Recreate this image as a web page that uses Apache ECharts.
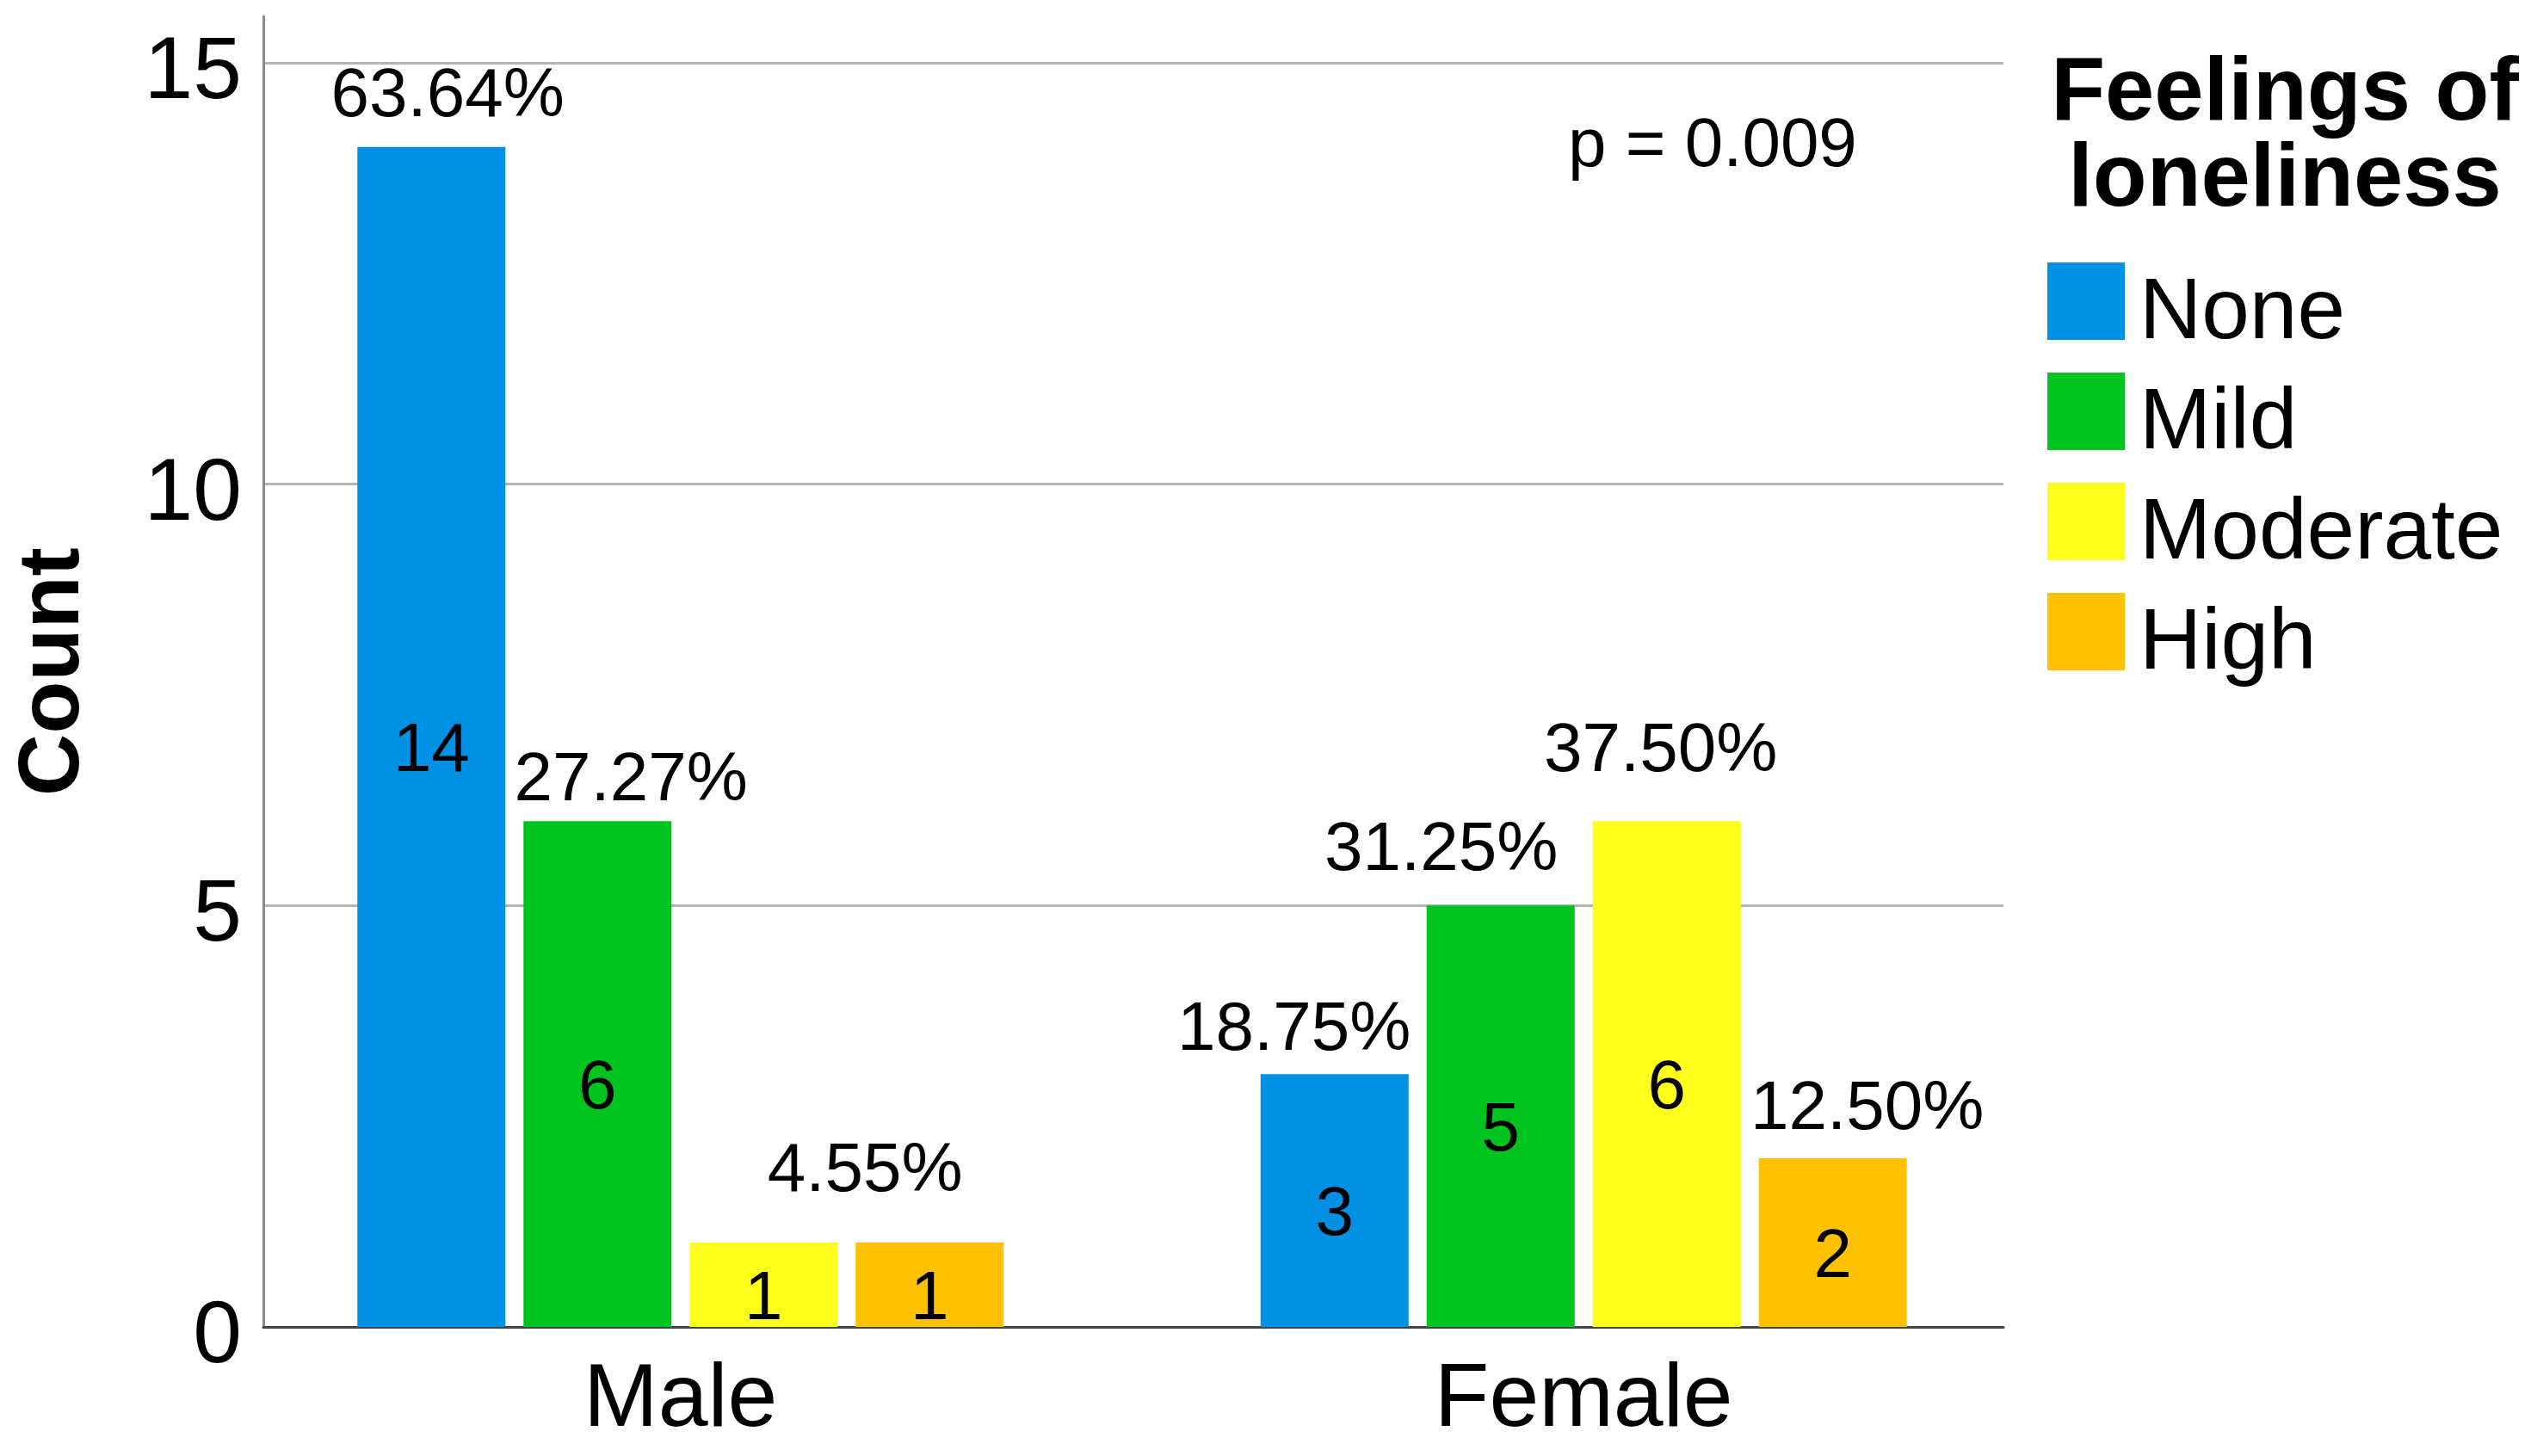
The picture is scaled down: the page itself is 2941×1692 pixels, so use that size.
<!DOCTYPE html>
<html>
<head>
<meta charset="utf-8">
<script src="https://cdn.jsdelivr.net/npm/echarts@6/dist/echarts.min.js"></script>
<style>
	html, body { margin: 0; padding: 0; background: #ffffff; }
	#loneliness_chart { width: 2941px; height: 1692px; }
</style>
</head>
<body>
<div id="loneliness_chart"></div>
<script>
	// data
	const categories = ['Male', 'Female'];
	const levels = ['None', 'Mild', 'Moderate', 'High'];
	const countNone = [14, 3];
	const countMild = [6, 5];
	const countModerate = [1, 6];
	const countHigh = [1, 2];
	const pctNone = ['63.64%', '18.75%'];
	const pctMild = ['27.27%', '31.25%'];
	const pctModerate = ['4.55%', '37.50%'];
	const pctHigh = ['4.55%', '12.50%'];
	const yTicks = [0, 5, 10, 15];
	const pText = 'p = 0.009';

	const counts = [countNone, countMild, countModerate, countHigh];
	const pcts = [pctNone, pctMild, pctModerate, pctHigh];
	const colors = ['#0090e4', '#00c320', '#ffff1e', '#ffc100'];
	const font = 'Liberation Sans, Arial, sans-serif';
	const yMax = 15.55;

	// SPSS moved the percent labels around so they don't collide; null = label dropped
	const pctNudge = [
		[[19, -23], [-47, -15]],
		[[39, -11], [-69, -28]],
		[[118, -47], [-7, -45]],
		[null, [40, -21]]
	];

	let series = [];
	levels.forEach(function(name, k){
		series.push({
			name: name,
			type: 'bar',
			xAxisIndex: 1,
			yAxisIndex: 1,
			stack: name,
			barWidth: 172,
			barGap: '12.2%',
			itemStyle: { color: colors[k] },
			label: {
				show: true,
				position: 'inside',
				offset: [0, 18],
				fontSize: 80,
				fontFamily: font,
				color: '#000'
			},
			data: counts[k]
		});
		// zero-height bar stacked on top, only there to carry the percent label
		series.push({
			name: name + ' pct',
			type: 'bar',
			xAxisIndex: 1,
			yAxisIndex: 1,
			stack: name,
			barWidth: 172,
			barGap: '12.2%',
			silent: true,
			itemStyle: { color: 'rgba(0,0,0,0)' },
			label: {
				position: 'top',
				distance: -5,
				fontSize: 80,
				fontFamily: font,
				color: '#000'
			},
			data: counts[k].map(function(v, i){
				let nudge = pctNudge[k][i];
				return {
					value: 0,
					label: {
						show: nudge != null,
						offset: nudge || [0, 0],
						formatter: pcts[k][i]
					}
				};
			})
		});
	});

	let option = {
		animation: false,
		backgroundColor: '#ffffff',
		title: [
			{
				text: 'Feelings of\nloneliness',
				left: 2650,
				top: 56,
				textAlign: 'center',
				textStyle: {
					fontFamily: font,
					fontWeight: 'bold',
					fontSize: 103,
					lineHeight: 100,
					color: '#000'
				}
			},
			{
				text: pText,
				left: 1817,
				top: 126,
				textStyle: {
					fontFamily: font,
					fontWeight: 'normal',
					fontSize: 80,
					color: '#000'
				}
			}
		],
		legend: {
			data: levels,
			orient: 'vertical',
			left: 2379,
			top: 305,
			padding: 0,
			itemWidth: 90,
			itemHeight: 90,
			itemGap: 18,
			icon: 'rect',
			selectedMode: false,
			formatter: function(name){ return '{l|' + name + '}'; },
			textStyle: {
				fontFamily: font,
				fontSize: 100,
				color: '#000',
				rich: {
					l: {
						fontFamily: font,
						fontSize: 100,
						color: '#000',
						padding: [30, 0, 0, 12]
					}
				}
			}
		},
		// grid 0 holds the visible frame, grid 1 (a bit wider) places the two groups like SPSS did
		grid: [
			{ left: 306, right: 613, top: 19, bottom: 150 },
			{ left: 266, right: 576, top: 19, bottom: 150 }
		],
		xAxis: [
			{
				gridIndex: 0,
				type: 'value',
				min: 0,
				max: 1,
				splitLine: { show: false },
				axisTick: { show: false },
				axisLabel: { show: false },
				axisLine: { show: true, lineStyle: { color: '#444', width: 3 } }
			},
			{
				gridIndex: 1,
				type: 'category',
				data: categories,
				axisLine: { show: false },
				axisTick: { show: false },
				axisLabel: {
					margin: 34,
					fontSize: 104,
					fontFamily: font,
					color: '#000'
				}
			}
		],
		yAxis: [
			{
				gridIndex: 0,
				type: 'value',
				min: 0,
				max: yMax,
				interval: 5,
				name: 'Count',
				nameLocation: 'middle',
				nameGap: 193,
				nameTextStyle: {
					fontFamily: font,
					fontWeight: 'bold',
					fontSize: 100,
					color: '#000'
				},
				axisLine: { show: true, onZero: false, lineStyle: { color: '#8a8a8a', width: 3 } },
				axisTick: { show: false },
				splitLine: { show: true, showMaxLine: false, lineStyle: { color: '#b4b4b4', width: 3 } },
				axisLabel: {
					showMaxLabel: false,
					margin: 25,
					color: '#000',
					formatter: function(v){ return yTicks.indexOf(v) >= 0 ? '{t|' + v + '}' : ''; },
					rich: {
						t: {
							fontSize: 102,
							fontFamily: font,
							color: '#000',
							padding: [26, 0, 0, 0]
						}
					}
				}
			},
			{
				gridIndex: 1,
				type: 'value',
				min: 0,
				max: yMax,
				show: false,
				splitLine: { show: false }
			}
		],
		series: series
	};

	let chart = echarts.init(document.getElementById('loneliness_chart'));
	chart.setOption(option);
	window.addEventListener('resize', function(){
		chart.resize();
	});
</script>
</body>
</html>
